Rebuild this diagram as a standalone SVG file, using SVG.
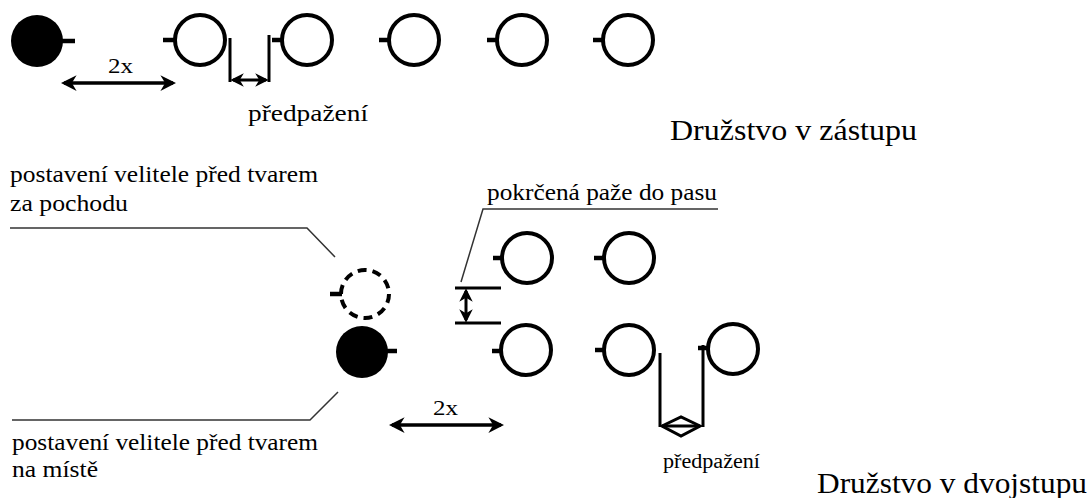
<svg xmlns="http://www.w3.org/2000/svg" width="1091" height="498" viewBox="0 0 1091 498">
<defs>
<marker id="ah" viewBox="0 0 10 10" refX="8" refY="5" markerWidth="4.5" markerHeight="4.5" orient="auto-start-reverse" markerUnits="strokeWidth">
<path d="M0,0 L10,5 L0,10 L3,5 z" fill="#000"/>
</marker>
</defs>
<style>
.open{fill:none;stroke:#000;stroke-width:4}
.dash{fill:none;stroke:#000;stroke-width:4;stroke-dasharray:9 6}
.fill{fill:#000}
.tick{stroke:#000;stroke-width:4.5;stroke-linecap:butt}
.leader{fill:none;stroke:#333;stroke-width:1.5}
.dim{stroke:#000;stroke-width:3;fill:none}
.arr{stroke:#000;stroke-width:3.5;fill:none}
.lbl{font-family:"Liberation Serif","DejaVu Serif","Times New Roman",serif;fill:#000}
</style>
<rect width="1091" height="498" fill="#fff"/>

<g id="leader-top"><circle class="fill" cx="37" cy="41" r="26"/><line class="tick" x1="62" y1="41" x2="75" y2="41"/></g>
<g id="s1"><circle class="open" cx="200" cy="40" r="25"/><line class="tick" x1="163" y1="40" x2="175" y2="40"/></g>
<g id="s2"><circle class="open" cx="307" cy="40" r="25"/><line class="tick" x1="272" y1="40" x2="282" y2="40"/></g>
<g id="s3"><circle class="open" cx="414" cy="40" r="25"/><line class="tick" x1="379" y1="40" x2="389" y2="40"/></g>
<g id="s4"><circle class="open" cx="522" cy="40" r="25"/><line class="tick" x1="487" y1="40" x2="497" y2="40"/></g>
<g id="s5"><circle class="open" cx="628" cy="40" r="25"/><line class="tick" x1="593" y1="40" x2="603" y2="40"/></g>

<g id="leader-march"><circle class="dash" cx="365" cy="294" r="24"/><line class="tick" x1="330" y1="294" x2="342" y2="294"/></g>
<g id="leader-place"><circle class="fill" cx="362" cy="352" r="26"/><line class="tick" x1="386" y1="351" x2="397" y2="351"/></g>
<g id="b1"><circle class="open" cx="527" cy="258" r="25"/><line class="tick" x1="493" y1="258" x2="503" y2="258"/></g>
<g id="b2"><circle class="open" cx="629" cy="258" r="25"/><line class="tick" x1="594" y1="258" x2="605" y2="258"/></g>
<g id="f1"><circle class="open" cx="526" cy="350" r="25"/><line class="tick" x1="492" y1="351" x2="502" y2="351"/></g>
<g id="f2"><circle class="open" cx="629" cy="350" r="25"/><line class="tick" x1="595" y1="350" x2="605" y2="350"/></g>
<g id="f3"><circle class="open" cx="733" cy="349" r="25"/><line class="tick" x1="698" y1="348" x2="709" y2="348"/></g>

<g id="connectors">
<line class="arr" x1="64" y1="83" x2="173" y2="83" marker-start="url(#ah)" marker-end="url(#ah)"/>
<line class="dim" x1="230" y1="38" x2="230" y2="82"/>
<line class="dim" x1="269" y1="35" x2="269" y2="82"/>
<line class="dim" x1="233" y1="80" x2="266" y2="80" marker-start="url(#ah)" marker-end="url(#ah)"/>
<polyline class="leader" points="10,228 307,228 335,257"/>
<polyline class="leader" points="12,420 310,420 338,392"/>
<polyline class="leader" points="718,209 483,209 461,282"/>
<line class="dim" x1="455" y1="288" x2="501" y2="288"/>
<line class="dim" x1="455" y1="323" x2="501" y2="323"/>
<line class="dim" x1="466" y1="291" x2="466" y2="320" marker-start="url(#ah)" marker-end="url(#ah)"/>
<line class="arr" x1="392" y1="425" x2="501" y2="425" marker-start="url(#ah)" marker-end="url(#ah)"/>
<line class="dim" x1="660" y1="353" x2="660" y2="427"/>
<line class="dim" x1="703" y1="345" x2="703" y2="427"/>
<polygon class="dim" points="662,426 681,417 700,426 681,436"/>
<line class="dim" x1="662" y1="426" x2="700" y2="426"/>
</g>

<g id="labels">
<text class="lbl" x="108" y="73" font-size="22" textLength="25" lengthAdjust="spacingAndGlyphs">2x</text>
<text class="lbl" x="248" y="121" font-size="24" textLength="120" lengthAdjust="spacingAndGlyphs">předpažení</text>
<text class="lbl" x="670" y="140" font-size="29" textLength="247" lengthAdjust="spacingAndGlyphs">Družstvo v zástupu</text>
<text class="lbl" x="10" y="182" font-size="23" textLength="308" lengthAdjust="spacingAndGlyphs">postavení velitele před tvarem</text>
<text class="lbl" x="10" y="211" font-size="23" textLength="118" lengthAdjust="spacingAndGlyphs">za pochodu</text>
<text class="lbl" x="487" y="200" font-size="23" textLength="230" lengthAdjust="spacingAndGlyphs">pokrčená paže do pasu</text>
<text class="lbl" x="433" y="415" font-size="22" textLength="25" lengthAdjust="spacingAndGlyphs">2x</text>
<text class="lbl" x="12" y="450" font-size="23" textLength="306" lengthAdjust="spacingAndGlyphs">postavení velitele před tvarem</text>
<text class="lbl" x="12" y="477" font-size="23" textLength="86" lengthAdjust="spacingAndGlyphs">na místě</text>
<text class="lbl" x="663" y="468" font-size="20" textLength="97" lengthAdjust="spacingAndGlyphs">předpažení</text>
<text class="lbl" x="817" y="493" font-size="29" textLength="270" lengthAdjust="spacingAndGlyphs">Družstvo v dvojstupu</text>
</g>
</svg>
